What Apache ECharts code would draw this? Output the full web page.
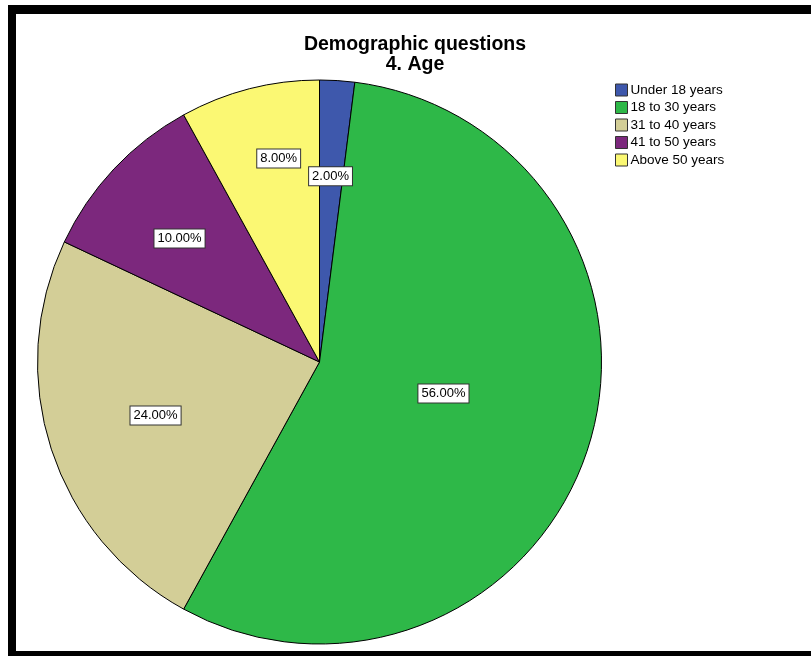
<!DOCTYPE html>
<html>
<head>
<meta charset="utf-8">
<script src="https://cdn.jsdelivr.net/npm/echarts@6/dist/echarts.min.js"></script>
<style>
html,body{margin:0;padding:0;background:#fff;}
#chart{position:absolute;left:0;top:0;width:811px;height:656px;}
#frame{position:absolute;left:8px;top:5px;width:803px;height:651px;box-sizing:border-box;border-top:9px solid #000;border-left:8px solid #000;border-bottom:5px solid #000;pointer-events:none;}
</style>
</head>
<body>
<div id="chart"></div>
<div id="frame"></div>
<script>
const categories = ['Under 18 years', '18 to 30 years', '31 to 40 years', '41 to 50 years', 'Above 50 years'];
const values = [2, 56, 24, 10, 8];
const colors = ['#3E58AC', '#2EB848', '#D3CE97', '#7C287D', '#FBF873'];
const labelOffsets = [[2, -42], [-13, -13], [-27, 9], [-35, -25], [-5, -64]];

const chart = echarts.init(document.getElementById('chart'), null, {renderer: 'canvas'});
chart.setOption({
  animation: false,
  backgroundColor: '#fff',
  title: {
    text: 'Demographic questions\n4. Age',
    left: 415,
    textAlign: 'center',
    top: 35,
    padding: 0,
    textStyle: {fontFamily: 'Liberation Sans, Arial, sans-serif', fontSize: 19.5, fontWeight: 'bold', color: '#000', lineHeight: 20}
  },
  legend: {
    orient: 'vertical',
    left: 615,
    top: 83,
    itemWidth: 12,
    itemHeight: 12,
    itemGap: 3.5,
    icon: 'rect',
    padding: 0,
    itemStyle: {borderColor: '#333', borderWidth: 1},
    textStyle: {fontFamily: 'Liberation Sans, Arial, sans-serif', fontSize: 13.5, color: '#000', padding: [0, 0, 0, -2]},
    data: categories
  },
  series: [{
    type: 'pie',
    center: [319.5, 362],
    radius: 282,
    startAngle: 90,
    clockwise: true,
    avoidLabelOverlap: false,
    itemStyle: {borderColor: '#000', borderWidth: 1},
    emphasis: {disabled: true},
    label: {
      position: 'inside',
      formatter: p => p.value.toFixed(2) + '%',
      fontFamily: 'Liberation Sans, Arial, sans-serif',
      fontSize: 13,
      color: '#000',
      backgroundColor: '#fff',
      borderColor: '#333',
      borderWidth: 1,
      padding: [3, 3, 2, 3]
    },
    labelLine: {show: false},
    data: categories.map((c, i) => ({
      name: c,
      value: values[i],
      itemStyle: {color: colors[i]},
      label: {offset: labelOffsets[i]}
    }))
  }]
});
</script>
</body>
</html>
